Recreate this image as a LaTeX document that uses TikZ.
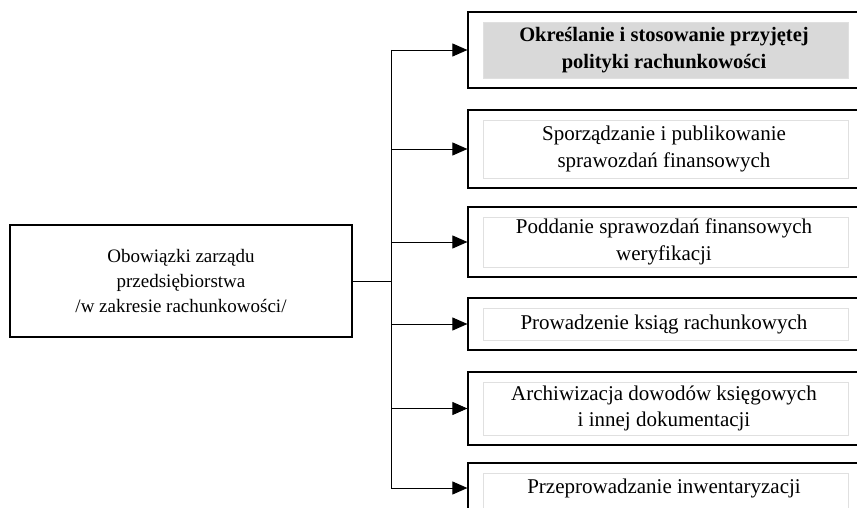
\documentclass[tikz,border=0pt]{standalone}
\usepackage{fontspec}
\setmainfont{Liberation Serif}
\usetikzlibrary{positioning,arrows.meta}
\definecolor{polgray}{HTML}{D9D9D9}
\definecolor{framegray}{HTML}{E0E0E0}
\tikzset{
  framebot/.store in=\framebot, framebot=10pt,
  mainbox/.style={draw, line width=1.2pt, minimum width=342pt, minimum height=112pt,
    align=center, inner sep=0pt, font=\fontsize{19}{25}\selectfont},
  duty/.style={draw, line width=1.2pt, minimum width=392pt, align=center, inner sep=0pt,
    font=\fontsize{21}{26.5}\selectfont,
    path picture={\draw[framegray, line width=0.7pt, fill=#1]
      ([xshift=15pt,yshift=-10pt]path picture bounding box.north west) rectangle
      ([xshift=-12pt,yshift=\framebot]path picture bounding box.south east);}},
  duty/.default=white,
  link/.style={line width=0.9pt},
  linkarrow/.style={link, -{Triangle[length=15pt,width=13pt]}}
}
\begin{document}
\begin{tikzpicture}[x=1pt,y=-1pt]
\useasboundingbox (0,0) rectangle (857,508);
% duties on the right
\node[duty=polgray, minimum height=76pt, font=\fontsize{20.5}{26.5}\selectfont\bfseries] (b1) at (664,50)
  {Określanie i stosowanie przyjętej\\polityki rachunkowości};
\node[duty, minimum height=78pt] (b2) at (664,149)
  {Sporządzanie i publikowanie\\sprawozdań finansowych};
\node[duty, minimum height=70pt] (b3) at (664,242)
  {Poddanie sprawozdań finansowych\\weryfikacji};
\node[duty, minimum height=52pt] (b4) at (664,324)
  {Prowadzenie ksiąg rachunkowych};
\node[duty, minimum height=73pt] (b5) at (664,408.5)
  {Archiwizacja dowodów księgowych\\i innej dokumentacji};
\node[duty, minimum height=50pt, framebot=-10pt] (b6) at (664,488)
  {Przeprowadzanie inwentaryzacji};
% left box
\node[mainbox] (zarzad) at (181,281)
  {Obowiązki zarządu\\przedsiębiorstwa\\/w zakresie rachunkowości/};
\coordinate (trunk) at (391,281);
\draw[link] (zarzad.east) -- (trunk);
\draw[link] (trunk |- b1.west) -- (trunk |- b6.west);
\foreach \i in {1,...,6}
\draw[linkarrow] (trunk |- b\i.west) -- (b\i.west);
\end{tikzpicture}
\end{document}
